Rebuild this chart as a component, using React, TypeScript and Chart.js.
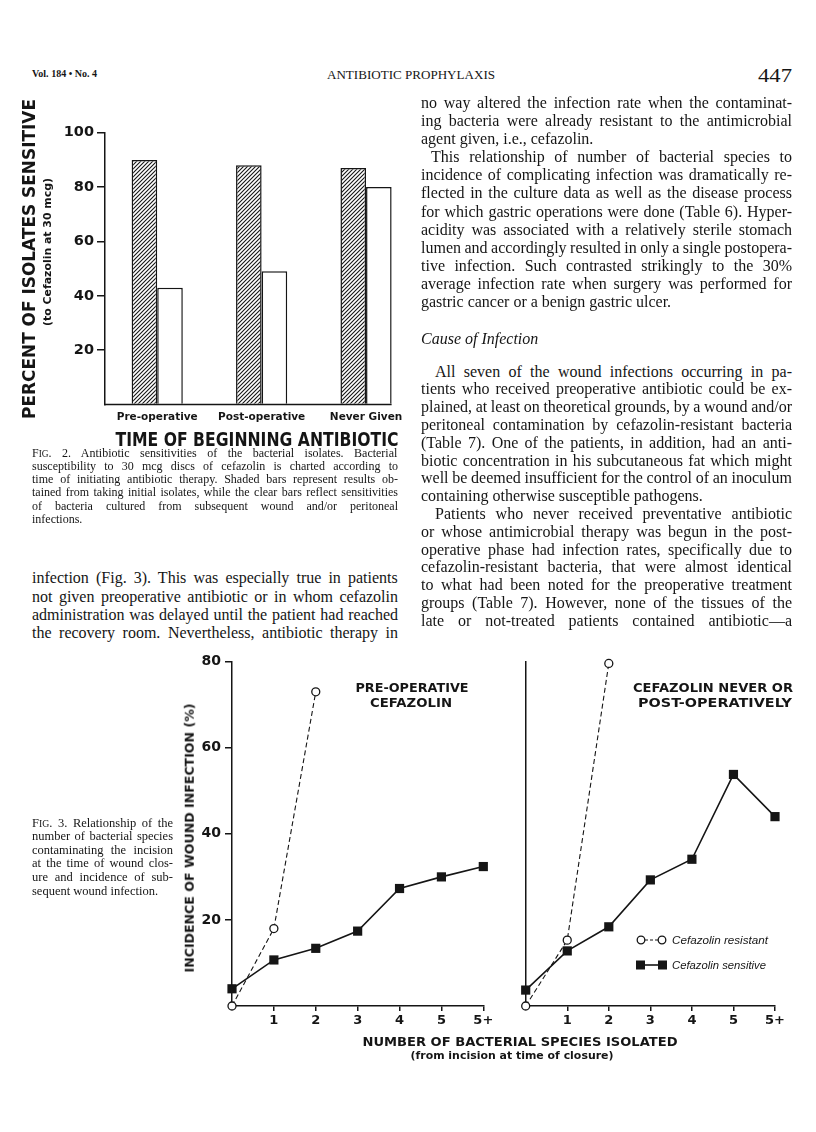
import React, { useEffect, useRef } from 'react';
import { Chart, registerables } from 'chart.js';

Chart.register(...registerables);

// ---------------- DATA ----------------
// Fig. 2
const fig2Categories = ['Pre-operative', 'Post-operative', 'Never Given'];
const fig2InitialIsolates = [90, 88, 87]; // shaded bars
const fig2SubsequentInfections = [43, 49, 80]; // clear bars
const fig2YTicks = [0, 20, 40, 60, 80, 100];

// Fig. 3
const fig3XValues = [0, 1, 2, 3, 4, 5, 6];
const fig3XTickLabels = ['', '1', '2', '3', '4', '5', '5+'];
const fig3YTicks = [0, 20, 40, 60, 80];
const preOpResistant = [0, 18, 73];
const preOpSensitive = [4, 10.7, 13.4, 17.4, 27.3, 30, 32.4];
const postOpResistant = [0, 15.3, 79.6];
const postOpSensitive = [3.7, 12.8, 18.4, 29.3, 34.1, 53.8, 44];

// ---------------- TEXT ----------------
const rightPara1 = [
  'no way altered the infection rate when the contaminat-',
  'ing bacteria were already resistant to the antimicrobial',
  'agent given, i.e., cefazolin.',
];
const rightPara2 = [
  'This relationship of number of bacterial species to',
  'incidence of complicating infection was dramatically re-',
  'flected in the culture data as well as the disease process',
  'for which gastric operations were done (Table 6). Hyper-',
  'acidity was associated with a relatively sterile stomach',
  'lumen and accordingly resulted in only a single postopera-',
  'tive infection. Such contrasted strikingly to the 30%',
  'average infection rate when surgery was performed for',
  'gastric cancer or a benign gastric ulcer.',
];
const rightPara3 = [
  'All seven of the wound infections occurring in pa-',
  'tients who received preoperative antibiotic could be ex-',
  'plained, at least on theoretical grounds, by a wound and/or',
  'peritoneal contamination by cefazolin-resistant bacteria',
  '(Table 7). One of the patients, in addition, had an anti-',
  'biotic concentration in his subcutaneous fat which might',
  'well be deemed insufficient for the control of an inoculum',
  'containing otherwise susceptible pathogens.',
];
const rightPara4 = [
  'Patients who never received preventative antibiotic',
  'or whose antimicrobial therapy was begun in the post-',
  'operative phase had infection rates, specifically due to',
  'cefazolin-resistant bacteria, that were almost identical',
  'to what had been noted for the preoperative treatment',
  'groups (Table 7). However, none of the tissues of the',
  'late or not-treated patients contained antibiotic\u2014a',
];
const leftPara = [
  'infection (Fig. 3). This was especially true in patients',
  'not given preoperative antibiotic or in whom cefazolin',
  'administration was delayed until the patient had reached',
  'the recovery room. Nevertheless, antibiotic therapy in',
];
const fig2Caption = [
  '. 2. Antibiotic sensitivities of the bacterial isolates. Bacterial',
  'susceptibility to 30 mcg discs of cefazolin is charted according to',
  'time of initiating antibiotic therapy. Shaded bars represent results ob-',
  'tained from taking initial isolates, while the clear bars reflect sensitivities',
  'of bacteria cultured from subsequent wound and/or peritoneal',
  'infections.',
];
const fig3Caption = [
  '. 3. Relationship of the',
  'number of bacterial species',
  'contaminating the incision',
  'at the time of wound clos-',
  'ure and incidence of sub-',
  'sequent wound infection.',
];

// ---------------- HELPERS ----------------
const FIG_FONT = 'DejaVu Sans';
const SERIF = 'Liberation Serif';
const INK = '#151515';

const mctx: CanvasRenderingContext2D | null =
  typeof document !== 'undefined' ? document.createElement('canvas').getContext('2d') : null;
function measureText(text: string, font: string): number {
  if (!mctx) return text.length * 7;
  mctx.font = font;
  return mctx.measureText(text).width;
}

type LabelProps = {
  x: number;
  y: number;
  text: string;
  size: number;
  family?: string;
  weight?: string;
  italic?: boolean;
  fit?: number;
  anchor?: 'start' | 'middle' | 'end';
  rotate?: boolean;
};
function Label(p: LabelProps) {
  const family = p.family ?? FIG_FONT;
  const weight = p.weight ?? 'bold';
  const font = `${p.italic ? 'italic ' : ''}${weight} ${p.size}px "${family}"`;
  const natural = measureText(p.text, font);
  const s = p.fit ? p.fit / natural : 1;
  let origin = '50% 50%';
  let transform = `translate(-50%,-50%) scaleX(${s})`;
  if (p.rotate) {
    transform = `translate(-50%,-50%) rotate(-90deg) scaleX(${s})`;
  } else if (p.anchor === 'start') {
    origin = '0 50%';
    transform = `translate(0,-50%) scaleX(${s})`;
  } else if (p.anchor === 'end') {
    origin = '100% 50%';
    transform = `translate(-100%,-50%) scaleX(${s})`;
  }
  return (
    <div
      style={{
        position: 'absolute',
        left: p.x,
        top: p.y,
        fontFamily: `"${family}"`,
        fontSize: p.size,
        fontWeight: weight as any,
        fontStyle: p.italic ? 'italic' : 'normal',
        lineHeight: 1,
        whiteSpace: 'nowrap',
        transform,
        transformOrigin: origin,
        color: INK,
      }}
    >
      {p.text}
    </div>
  );
}

type Part = { t: string; sc?: boolean };
function TextLine(props: {
  x: number;
  y: number;
  w: number;
  parts: Part[];
  size: number;
  justify: boolean;
  italic?: boolean;
}) {
  const { x, y, w, parts, size, justify, italic } = props;
  const st = italic ? 'italic ' : '';
  const base = `${st}normal ${size}px "${SERIF}"`;
  const small = `${st}normal ${size * 0.78}px "${SERIF}"`;
  let natural = 0;
  let spaces = 0;
  for (const p of parts) {
    natural += measureText(p.t, p.sc ? small : base);
    if (!p.sc) spaces += (p.t.match(/ /g) || []).length;
  }
  let ws = 0;
  let s = 1;
  if (justify && spaces > 0) {
    ws = (w - natural) / spaces;
    if (ws < -1.2) {
      ws = -1.2;
      s = w / (natural + ws * spaces);
    }
  } else if (natural > w) {
    s = w / natural;
  }
  return (
    <div
      style={{
        position: 'absolute',
        left: x,
        top: y - 0.11 * size,
        fontFamily: `"${SERIF}"`,
        fontSize: size,
        fontStyle: italic ? 'italic' : 'normal',
        lineHeight: 1,
        whiteSpace: 'nowrap',
        wordSpacing: ws,
        transform: `translate(0,-50%) scaleX(${s})`,
        transformOrigin: '0 50%',
        color: INK,
      }}
    >
      {parts.map((p, i) =>
        p.sc ? (
          <span key={i} style={{ fontSize: size * 0.78 }}>
            {p.t}
          </span>
        ) : (
          <span key={i}>{p.t}</span>
        )
      )}
    </div>
  );
}

function Paragraph(props: {
  lines: string[];
  x: number;
  w: number;
  y0: number;
  step: number;
  size: number;
  indent?: number;
  lastJustify?: boolean;
  firstParts?: Part[];
}) {
  const { lines, x, w, y0, step, size } = props;
  const indent = props.indent ?? 0;
  return (
    <>
      {lines.map((ln, i) => {
        const isLast = i === lines.length - 1;
        const ind = i === 0 ? indent : 0;
        const parts: Part[] = i === 0 && props.firstParts ? [...props.firstParts, { t: ln }] : [{ t: ln }];
        return (
          <TextLine
            key={i}
            x={x + ind}
            y={y0 + i * step}
            w={w - ind}
            parts={parts}
            size={size}
            justify={!isLast || !!props.lastJustify}
          />
        );
      })}
    </>
  );
}

// ---------------- FIG 2 ----------------
const baselinePlugin = {
  id: 'fig2Baseline',
  afterDatasetsDraw(chart: any) {
    const { ctx, chartArea } = chart;
    const meta = chart.getDatasetMeta(chart.data.datasets.length - 1);
    const last = meta.data[meta.data.length - 1];
    const right = last.x + last.width / 2;
    ctx.save();
    ctx.strokeStyle = INK;
    ctx.lineWidth = 1.5;
    ctx.beginPath();
    ctx.moveTo(chartArea.left, chartArea.bottom);
    ctx.lineTo(right, chartArea.bottom);
    ctx.stroke();
    ctx.restore();
  },
};

function Fig2() {
  const ref = useRef<HTMLCanvasElement>(null);
  useEffect(() => {
    const canvas = ref.current!;
    const pc = document.createElement('canvas');
    pc.width = 4;
    pc.height = 4;
    const p = pc.getContext('2d')!;
    p.fillStyle = '#fff';
    p.fillRect(0, 0, 4, 4);
    p.strokeStyle = INK;
    p.lineWidth = 1.1;
    p.beginPath();
    p.moveTo(0, 4);
    p.lineTo(4, 0);
    p.moveTo(-1, 1);
    p.lineTo(1, -1);
    p.moveTo(3, 5);
    p.lineTo(5, 3);
    p.stroke();
    const pattern = canvas.getContext('2d')!.createPattern(pc, 'repeat')!;

    const chart = new Chart(canvas, {
      type: 'bar',
      data: {
        labels: fig2Categories,
        datasets: [
          {
            label: 'Initial isolates',
            data: fig2InitialIsolates,
            backgroundColor: pattern as any,
            borderColor: INK,
            borderWidth: 1.5,
            borderSkipped: 'bottom',
            barPercentage: 1,
            categoryPercentage: 0.49,
          },
          {
            label: 'Subsequent infections',
            data: fig2SubsequentInfections,
            backgroundColor: '#ffffff',
            borderColor: INK,
            borderWidth: 1.5,
            borderSkipped: 'bottom',
            barPercentage: 1,
            categoryPercentage: 0.49,
          },
        ],
      },
      options: {
        responsive: false,
        animation: false,
        layout: { padding: { left: 0, top: 42.7, right: 11.75, bottom: 5.5 } },
        plugins: { legend: { display: false }, tooltip: { enabled: false } },
        scales: {
          x: {
            type: 'category',
            grid: { display: false, drawTicks: false },
            border: { display: false },
            ticks: {
              color: INK,
              font: { family: FIG_FONT, size: 10.5, weight: 'bold' },
              padding: 6,
              maxRotation: 0,
              autoSkip: false,
            },
            afterFit: (s: any) => {
              s.height = 30;
            },
          },
          y: {
            min: 0,
            max: 100,
            afterBuildTicks: (s: any) => {
              s.ticks = fig2YTicks.map((v) => ({ value: v }));
            },
            ticks: {
              color: INK,
              font: { family: FIG_FONT, size: 14.5, weight: 'bold' },
              padding: 3,
              callback: (v: any) => (Number(v) === 0 ? '' : String(v)),
            },
            grid: {
              drawOnChartArea: false,
              drawTicks: true,
              tickLength: 8,
              lineWidth: 1.5,
              color: (c: any) => (c.tick && c.tick.value === 0 ? 'rgba(0,0,0,0)' : INK),
            },
            border: { display: true, color: INK, width: 1.5 },
            afterFit: (s: any) => {
              s.width = 105;
            },
          },
        },
      },
      plugins: [baselinePlugin],
    });
    return () => chart.destroy();
  }, []);
  return (
    <canvas
      ref={ref}
      width={430}
      height={350}
      style={{ position: 'absolute', left: 0, top: 90, width: 430, height: 350 }}
    />
  );
}

// ---------------- FIG 3 ----------------
function Fig3Panel(props: {
  left: number;
  width: number;
  padding: { left: number; right: number; top: number; bottom: number };
  yAxisWidth: number;
  showY: boolean;
  resistant: number[];
  sensitive: number[];
}) {
  const ref = useRef<HTMLCanvasElement>(null);
  useEffect(() => {
    const chart = new Chart(ref.current!, {
      type: 'line',
      data: {
        datasets: [
          {
            label: 'Cefazolin resistant',
            data: props.resistant.map((y, i) => ({ x: fig3XValues[i], y })),
            borderColor: INK,
            borderWidth: 1.1,
            borderDash: [5, 3],
            pointStyle: 'circle',
            pointRadius: 4,
            pointBackgroundColor: '#ffffff',
            pointBorderColor: INK,
            pointBorderWidth: 1.3,
            tension: 0,
            clip: false as any,
            order: 1,
          },
          {
            label: 'Cefazolin sensitive',
            data: props.sensitive.map((y, i) => ({ x: fig3XValues[i], y })),
            borderColor: INK,
            borderWidth: 1.6,
            pointStyle: 'rect',
            pointRadius: 6.5,
            pointBackgroundColor: INK,
            pointBorderColor: INK,
            pointBorderWidth: 0,
            tension: 0,
            clip: false as any,
            order: 2,
          },
        ],
      },
      options: {
        responsive: false,
        animation: false,
        layout: { padding: props.padding },
        plugins: { legend: { display: false }, tooltip: { enabled: false } },
        scales: {
          x: {
            type: 'linear',
            min: 0,
            max: 6,
            afterBuildTicks: (s: any) => {
              s.ticks = fig3XValues.map((v) => ({ value: v }));
            },
            ticks: {
              color: INK,
              font: { family: FIG_FONT, size: 13, weight: 'bold' },
              padding: 2,
              maxRotation: 0,
              autoSkip: false,
              callback: (v: any) => fig3XTickLabels[fig3XValues.indexOf(Number(v))] ?? '',
            },
            grid: {
              drawOnChartArea: false,
              drawTicks: true,
              tickLength: 5,
              lineWidth: 1.5,
              color: (c: any) => (c.tick && c.tick.value === 0 ? 'rgba(0,0,0,0)' : INK),
            },
            border: { display: true, color: INK, width: 1.5 },
            afterFit: (s: any) => {
              s.height = 28;
            },
          },
          y: {
            min: 0,
            max: 80,
            afterBuildTicks: (s: any) => {
              s.ticks = fig3YTicks.map((v) => ({ value: v }));
            },
            ticks: {
              display: props.showY,
              color: INK,
              font: { family: FIG_FONT, size: 14, weight: 'bold' },
              padding: 4,
              callback: (v: any) => (Number(v) === 0 ? '' : String(v)),
            },
            grid: {
              display: props.showY,
              drawOnChartArea: false,
              drawTicks: true,
              tickLength: 7,
              lineWidth: 1.5,
              color: (c: any) => (c.tick && c.tick.value === 0 ? 'rgba(0,0,0,0)' : INK),
            },
            border: { display: true, color: INK, width: 1.5 },
            afterFit: (s: any) => {
              s.width = props.yAxisWidth;
            },
          },
        },
      },
    });
    return () => chart.destroy();
  }, []);
  return (
    <canvas
      ref={ref}
      width={props.width}
      height={400}
      style={{ position: 'absolute', left: props.left, top: 640, width: props.width, height: 400 }}
    />
  );
}

// ---------------- APP ----------------
const BODY = 16;

export default function App() {
  return (
    <div
      style={{
        position: 'absolute',
        left: 0,
        top: 0,
        width: 816,
        height: 1132,
        background: '#ffffff',
        overflow: 'hidden',
      }}
    >
      {/* Running header */}
      <Label x={32} y={75} text="Vol. 184 • No. 4" size={9.5} family={SERIF} weight="bold" anchor="start" fit={65} />
      <Label x={411} y={75} text="ANTIBIOTIC PROPHYLAXIS" size={12} family={SERIF} weight="normal" fit={168} />
      <Label x={758} y={76} text="447" size={18} family={SERIF} weight="normal" anchor="start" fit={34} />

      {/* Fig 2 */}
      <Fig2 />
      <Label x={29} y={259} text="PERCENT OF ISOLATES SENSITIVE" size={18} rotate fit={320} />
      <Label x={47} y={252} text="(to Cefazolin at 30 mcg)" size={11} rotate fit={148} />
      <Label x={256.5} y={439} text="TIME OF BEGINNING ANTIBIOTIC" size={19} fit={283} />

      <Paragraph
        lines={fig2Caption}
        firstParts={[{ t: 'F' }, { t: 'IG', sc: true }]}
        x={32}
        w={366}
        y0={454.3}
        step={13.15}
        size={12}
      />
      <Paragraph lines={leftPara} x={32} w={366} y0={580} step={18.3} size={BODY} lastJustify />

      {/* Right column */}
      <Paragraph lines={rightPara1} x={421} w={371} y0={105} step={18.05} size={BODY} />
      <Paragraph lines={rightPara2} x={421} w={371} y0={105 + 3 * 18.05} step={18.05} size={BODY} indent={10} />
      <TextLine x={421} y={341} w={130} parts={[{ t: 'Cause of Infection' }]} size={BODY} italic justify={false} />
      <Paragraph lines={rightPara3} x={421} w={371} y0={373.3} step={17.8} size={BODY} indent={14} />
      <Paragraph
        lines={rightPara4}
        x={421}
        w={371}
        y0={373.3 + 8 * 17.8}
        step={17.8}
        size={BODY}
        indent={14}
        lastJustify
      />

      {/* Fig 3 */}
      <Fig3Panel
        left={150}
        width={355}
        padding={{ left: 42, right: 21.7, top: 21.7, bottom: 6 }}
        yAxisWidth={40}
        showY
        resistant={preOpResistant}
        sensitive={preOpSensitive}
      />
      <Fig3Panel
        left={490}
        width={310}
        padding={{ left: 35.7, right: 25, top: 21.7, bottom: 6 }}
        yAxisWidth={0}
        showY={false}
        resistant={postOpResistant}
        sensitive={postOpSensitive}
      />
      <Label x={190} y={837.5} text="INCIDENCE OF WOUND INFECTION (%)" size={12.5} rotate fit={269} />
      <Label x={411.5} y={689} text="PRE-OPERATIVE" size={11.5} fit={113} />
      <Label x={411} y={704} text="CEFAZOLIN" size={11.5} fit={82} />
      <Label x={713} y={689} text="CEFAZOLIN NEVER OR" size={11.5} fit={160} />
      <Label x={715} y={704} text="POST-OPERATIVELY" size={11.5} fit={154} />

      {/* Legend */}
      <svg
        style={{ position: 'absolute', left: 630, top: 930, overflow: 'visible' }}
        width={45}
        height={45}
      >
        <line x1={15} y1={10} x2={28} y2={10} stroke={INK} strokeWidth={1.1} strokeDasharray="3 2" />
        <circle cx={11} cy={10} r={3.8} fill="#fff" stroke={INK} strokeWidth={1.3} />
        <circle cx={32} cy={10} r={3.8} fill="#fff" stroke={INK} strokeWidth={1.3} />
        <line x1={10} y1={35} x2={33} y2={35} stroke={INK} strokeWidth={1.6} />
        <rect x={6} y={30.5} width={9} height={9} fill={INK} />
        <rect x={28} y={30.5} width={9} height={9} fill={INK} />
      </svg>
      <Label x={672} y={940} text="Cefazolin resistant" size={10.5} family="Liberation Sans" weight="normal" italic anchor="start" fit={96} />
      <Label x={672} y={965} text="Cefazolin sensitive" size={10.5} family="Liberation Sans" weight="normal" italic anchor="start" fit={94} />

      <Label x={519.5} y={1042} text="NUMBER OF BACTERIAL SPECIES ISOLATED" size={12} fit={315} />
      <Label x={511.5} y={1055} text="(from incision at time of closure)" size={11} fit={203} />

      <Paragraph
        lines={fig3Caption}
        firstParts={[{ t: 'F' }, { t: 'IG', sc: true }]}
        x={32}
        w={141}
        y0={824}
        step={13.6}
        size={12.5}
      />
    </div>
  );
}
